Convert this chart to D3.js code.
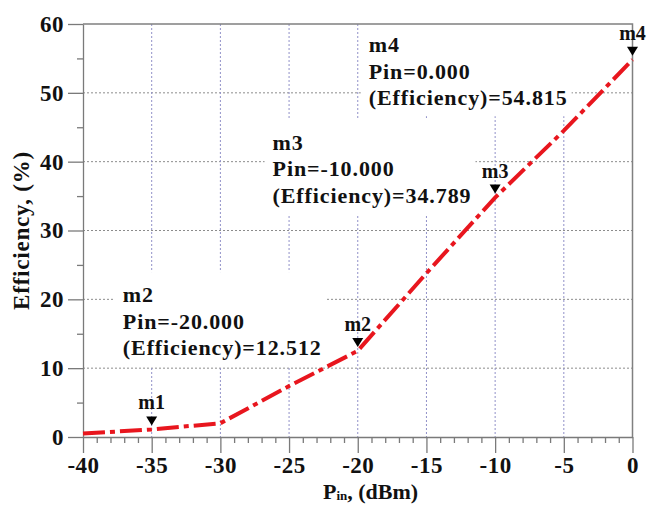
<!DOCTYPE html>
<html>
<head>
<meta charset="utf-8">
<title>Efficiency vs Pin</title>
<script src="https://cdn.jsdelivr.net/npm/d3@7"></script>
<style>
  body { margin: 0; background: #fff; }
  svg text { font-family: "Liberation Serif", "Times New Roman", serif; font-weight: bold; fill: #111; }
  .grid-h { stroke: #8c8c8c; stroke-width: 1; stroke-dasharray: 2,2; }
  .grid-v { stroke: #9090c8; stroke-width: 1; stroke-dasharray: 2,2; }
  .frame { stroke: #808080; stroke-width: 1.5; fill: none; }
  .axis path, .axis line { stroke: #7a7a7a; stroke-width: 1.3; }
  .axis text { font-size: 23px; letter-spacing: 0.5px; }
  .curve { fill: none; stroke: #e8161e; stroke-width: 4; stroke-dasharray: 22,5,5,5; }
</style>
</head>
<body>
<script>
// ---- data ----
var pinValues = [-40, -35, -30, -25, -20, -15, -10, -5, 0];
var effValues = [0.5, 1.1, 2.0, 7.4, 12.512, 23.8, 34.789, 44.5, 54.815];

var markerNames = ["m1", "m2", "m3", "m4"];
var markerPin = [-35, -20, -10, 0];
var markerEff = [1.1, 12.512, 34.789, 54.815];

// readout boxes (m1 has none)
var readoutNames = ["m2", "m3", "m4"];

var xTicks = [-40, -35, -30, -25, -20, -15, -10, -5, 0];
var yTicks = [0, 10, 20, 30, 40, 50, 60];

var width = 665, height = 514;
var margin = {top: 24, right: 32.5, bottom: 77, left: 83};

var svg = d3.select("body").append("svg")
    .attr("width", width)
    .attr("height", height);

var x = d3.scaleLinear().domain([-40, 0]).range([margin.left, width - margin.right]);
var y = d3.scaleLinear().domain([0, 60]).range([height - margin.bottom, margin.top]);

// plain hyphen instead of d3's unicode minus
var plain = d => String(d);
var fmt = d => d3.format(".3f")(d).replace("\u2212", "-");

// grid
svg.append("g").selectAll("line")
    .data(yTicks.slice(1, -1))
    .join("line")
    .attr("class", "grid-h")
    .attr("x1", x(-40)).attr("x2", x(0))
    .attr("y1", d => y(d)).attr("y2", d => y(d));

svg.append("g").selectAll("line")
    .data(xTicks.slice(1, -1))
    .join("line")
    .attr("class", "grid-v")
    .attr("x1", d => x(d)).attr("x2", d => x(d))
    .attr("y1", y(60)).attr("y2", y(0));

// readout boxes go under the curve, over the grid
var readLayer = svg.append("g");

// frame: top and right
svg.append("path")
    .attr("class", "frame")
    .attr("d", "M" + x(-40) + "," + y(60) + "H" + x(0) + "V" + y(0));

// axes
svg.append("g")
    .attr("class", "axis")
    .attr("transform", "translate(" + x(-40) + ",0)")
    .call(d3.axisLeft(y).tickValues(yTicks).tickFormat(plain).tickSize(15).tickSizeOuter(0).tickPadding(4));

svg.append("g")
    .attr("class", "axis")
    .attr("transform", "translate(" + x(-40) + ",0)")
    .call(d3.axisLeft(y).tickValues(d3.range(5, 60, 10)).tickSize(6).tickFormat(""))
    .select(".domain").remove();

svg.append("g")
    .attr("class", "axis")
    .attr("transform", "translate(0," + y(0) + ")")
    .call(d3.axisBottom(x).tickValues(xTicks).tickFormat(plain).tickSize(16).tickSizeOuter(0).tickPadding(4));

svg.append("g")
    .attr("class", "axis")
    .attr("transform", "translate(0," + y(0) + ")")
    .call(d3.axisBottom(x).tickValues(d3.range(-39, 0, 1).filter(d => d % 5 != 0)).tickSize(6).tickFormat(""))
    .select(".domain").remove();

// axis titles
svg.append("text")
    .attr("transform", "translate(29," + ((y(0) + y(60)) / 2) + ") rotate(-90)")
    .attr("text-anchor", "middle")
    .style("font-size", "23px")
    .style("letter-spacing", "0.8px")
    .text("Efficiency, (%)");

var xl = svg.append("text")
    .attr("x", 323)
    .attr("y", 499)
    .style("font-size", "22px");
xl.append("tspan").text("P");
xl.append("tspan").attr("dy", 1).style("font-size", "13px").text("in");
xl.append("tspan").attr("dy", -1).text(", (dBm)");

// curve
var pts = pinValues.map((p, i) => [p, effValues[i]]);
svg.append("path")
    .datum(pts)
    .attr("class", "curve")
    .attr("d", d3.line().x(d => x(d[0])).y(d => y(d[1])));

// markers
markerNames.forEach(function(name, i) {
    var px = x(markerPin[i]), py = y(markerEff[i]);
    svg.append("path")
        .attr("d", "M" + (px - 5.5) + "," + (py - 13) + "L" + (px + 5.5) + "," + (py - 13) + "L" + px + "," + (py - 4) + "Z")
        .attr("fill", "#000");
    svg.append("text")
        .attr("x", px)
        .attr("y", py - 20)
        .attr("text-anchor", "middle")
        .style("font-size", "20px")
        .text(name);
});

// readout text blocks
var readAt = {m2: [-37.1, 19.6], m3: [-26.2, 41.7], m4: [-19.2, 55.9]};
readoutNames.forEach(function(name) {
    var i = markerNames.indexOf(name);
    var g = readLayer.append("g");
    var t = g.append("text")
        .attr("x", x(readAt[name][0]))
        .attr("y", y(readAt[name][1]))
        .style("font-size", "22px")
        .style("letter-spacing", "0.9px");
    [name, "Pin=" + fmt(markerPin[i]), "(Efficiency)=" + fmt(markerEff[i])].forEach(function(s, k) {
        t.append("tspan")
            .attr("x", x(readAt[name][0]))
            .attr("dy", k == 0 ? 0 : 26.5)
            .text(s);
    });
    var b = t.node().getBBox();
    g.insert("rect", "text")
        .attr("x", b.x - 8)
        .attr("y", b.y - 10)
        .attr("width", b.width + 12)
        .attr("height", b.height + 16)
        .attr("fill", "#fff");
});
</script>
</body>
</html>
